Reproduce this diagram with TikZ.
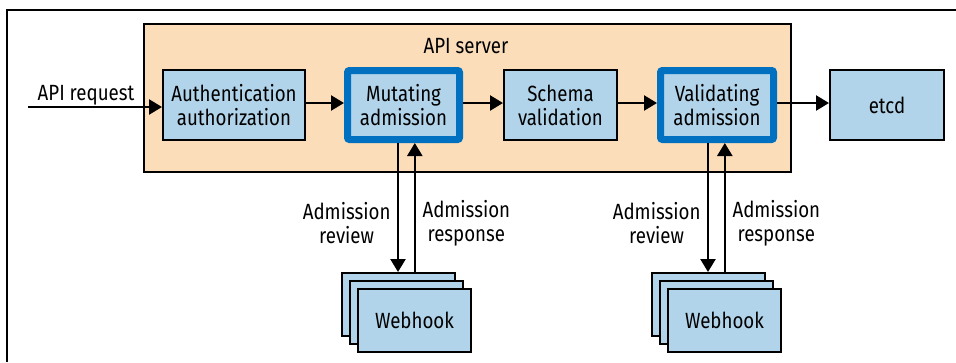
\documentclass[tikz,border=0pt]{standalone}
\usepackage{fontspec}
\setmainfont{Fira Sans}[FakeStretch=0.85]
\usetikzlibrary{arrows.meta}

\definecolor{serverFill}{RGB}{251,221,186}
\definecolor{boxFill}{RGB}{177,212,234}
\definecolor{admBlue}{RGB}{0,112,192}

\begin{document}
\begin{tikzpicture}[x=1pt, y=-1pt, >={Triangle[length=13pt,width=15pt]},
            every node/.style={font=\fontsize{22}{24}\selectfont}]
            \tikzstyle{boxStyle} = [draw=black, line width=2, fill=boxFill, align=center,
                                    inner sep=0, minimum width=113, minimum height=70]
            \tikzstyle{admStyle} = [boxStyle, draw=admBlue, line width=7, rounded corners=2,
                                    minimum height=69]
            \tikzstyle{flowEdge} = [draw=black, line width=2.5]
            \useasboundingbox (0,0) rectangle (956,362);
            \draw[line width=2] (6.5,362) -- (6.5,9.5) -- (956,9.5);
            \node[draw=black, line width=2, fill=serverFill, minimum width=647,
                  minimum height=148] (server) at (467,98) {};
            \node (serverLabel) at (466,46) {API server};
            \node[boxStyle, minimum width=142] (auth) at (234,105) {Authentication\\authorization};
            \node[admStyle, minimum width=112] (mut) at (403.5,105) {Mutating\\admission};
            \node[boxStyle] (schema) at (560.5,105) {Schema\\validation};
            \node[admStyle] (val) at (717,105) {Validating\\admission};
            \node[boxStyle, minimum width=114] (etcd) at (887,105) {etcd};
            \coordinate (req) at (28,107);
            \node[anchor=base] (reqLabel) at (86,100) {API request};
            \path[flowEdge] (req) edge[->] (req -| auth.west);
            \foreach \from/\to in {auth/mut,mut/schema,schema/val,val/etcd}
                \path[flowEdge] ([yshift=2]\from.east) edge[->] ([yshift=2]\to.west);
            % webhook stacks
            \foreach \name/\cx in {mutHook/414.5,valHook/724.5} {
                \node[boxStyle, minimum height=63] (\name3) at (\cx-16,304.5) {};
                \node[boxStyle, minimum height=63] (\name2) at (\cx-8,312.5) {};
                \node[boxStyle, minimum height=63] (\name1) at (\cx,320.5) {Webhook};
            }
            \foreach \adm/\hook/\dx in {mut/mutHook/-5.5,val/valHook/-9} {
                \path[flowEdge] ([xshift=\dx]\adm.south) edge[->] ([xshift=\dx]\adm.south |- \hook3.north);
                \path[flowEdge] ([xshift=\dx+16.8]\adm.south |- \hook3.north)
                    edge[->] ([xshift=\dx+16.8]\adm.south);
                \node[anchor=east, align=center] (\hook Review) at ([xshift=\dx-4]\adm.south |- 0,223)
                    {Admission\\review};
                \node[anchor=west, align=center] (\hook Response) at ([xshift=\dx+21]\adm.south |- 0,223)
                    {Admission\\response};
            }
        \end{tikzpicture}
\end{document}
